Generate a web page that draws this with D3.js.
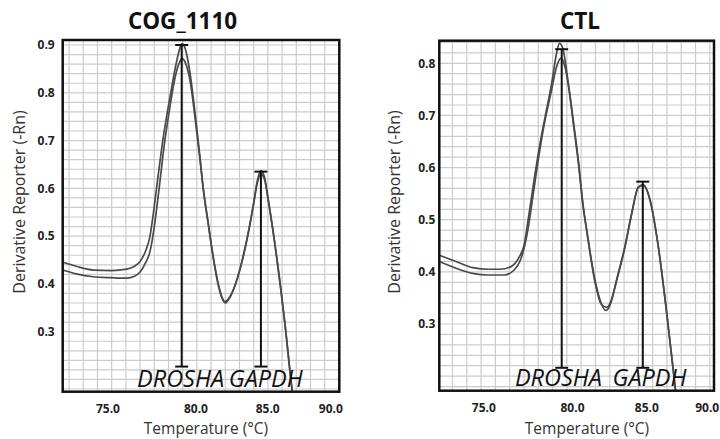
<!DOCTYPE html>
<html>
<head>
<meta charset="utf-8">
<script src="https://cdn.jsdelivr.net/npm/d3@7"></script>
<style>
  body { margin: 0; background: #fff; }
  svg { display: block; }
</style>
</head>
<body>
<script>
// melt curves: [temperature (°C), derivative reporter]
const cogCurveA = [
  [71.55, 0.446], [72.5, 0.437], [73.7, 0.429], [75.0, 0.428], [76.06, 0.431],
  [76.6, 0.437], [77.0, 0.447], [77.4, 0.47], [77.7, 0.50], [77.9, 0.54],
  [78.2, 0.61], [78.6, 0.70], [79.1, 0.79], [79.5, 0.855], [79.8, 0.893],
  [79.95, 0.903], [80.15, 0.895], [80.5, 0.845], [80.9, 0.75], [81.2, 0.67],
  [81.45, 0.60], [81.8, 0.527], [82.15, 0.457], [82.5, 0.401], [82.8, 0.37],
  [82.98, 0.363], [83.2, 0.368], [83.56, 0.387], [84.15, 0.443], [84.62, 0.506],
  [85.0, 0.57], [85.25, 0.615], [85.5, 0.637], [85.75, 0.625], [86.03, 0.576],
  [86.62, 0.457], [87.2, 0.318], [87.68, 0.185], [88.0, 0.11]
];
const cogCurveB = [
  [71.55, 0.429], [72.5, 0.421], [73.7, 0.415], [75.0, 0.413], [76.06, 0.412],
  [76.6, 0.416], [77.0, 0.425], [77.4, 0.445], [77.7, 0.468], [78.0, 0.52],
  [78.3, 0.59], [78.7, 0.69], [79.1, 0.77], [79.45, 0.83], [79.75, 0.862],
  [79.95, 0.872], [80.2, 0.862], [80.55, 0.82], [80.9, 0.74], [81.2, 0.665],
  [81.45, 0.598], [81.8, 0.525], [82.15, 0.455], [82.5, 0.398], [82.8, 0.368],
  [83.0, 0.36], [83.25, 0.368], [83.6, 0.39], [84.15, 0.445], [84.62, 0.508],
  [85.0, 0.568], [85.25, 0.61], [85.5, 0.63], [85.75, 0.62], [86.03, 0.574],
  [86.62, 0.455], [87.2, 0.316], [87.68, 0.183], [88.0, 0.108]
];
const ctlCurveA = [
  [72.08, 0.432], [73.25, 0.42], [74.42, 0.408], [75.5, 0.405], [76.3, 0.405],
  [77.1, 0.41], [77.68, 0.429], [78.0, 0.45], [78.31, 0.503], [78.7, 0.575],
  [79.13, 0.647], [79.5, 0.70], [79.94, 0.762], [80.25, 0.815], [80.48, 0.838],
  [80.7, 0.83], [81.1, 0.762], [81.45, 0.69], [81.8, 0.615], [82.15, 0.525],
  [82.39, 0.48], [82.97, 0.384], [83.4, 0.34], [83.7, 0.326], [84.0, 0.335],
  [84.49, 0.384], [85.07, 0.448], [85.54, 0.512], [86.0, 0.563], [86.35, 0.567],
  [86.82, 0.538], [87.4, 0.448], [87.99, 0.32], [88.57, 0.18], [88.9, 0.10]
];
const ctlCurveB = [
  [72.08, 0.42], [73.25, 0.407], [74.42, 0.397], [75.5, 0.394], [76.63, 0.394],
  [77.33, 0.404], [77.92, 0.436], [78.27, 0.48], [78.6, 0.54], [79.0, 0.615],
  [79.4, 0.68], [79.9, 0.745], [80.3, 0.795], [80.59, 0.81], [80.85, 0.795],
  [81.15, 0.75], [81.45, 0.685], [81.8, 0.61], [82.15, 0.522], [82.39, 0.478],
  [82.97, 0.38], [83.4, 0.338], [83.79, 0.332], [84.1, 0.345], [84.49, 0.386],
  [85.07, 0.45], [85.54, 0.513], [86.0, 0.562], [86.35, 0.566], [86.82, 0.537],
  [87.4, 0.447], [87.99, 0.319], [88.57, 0.179], [88.9, 0.10]
];

// peak markers: [temperature, top value], drawn down to a common base value
const genes = ["DROSHA", "GAPDH"];
const cogPeaks = [[79.93, 0.9], [85.51, 0.635]];
const ctlPeaks = [[80.64, 0.827], [86.31, 0.573]];
const cogPeakBase = 0.227;
const ctlPeakBase = 0.216;
const cogGeneLabelAt = [79.85, 85.85];
const ctlGeneLabelAt = [80.41, 86.78];

// tick labels (the source figure places them a little off the grid)
const xTickText = ["75.0", "80.0", "85.0", "90.0"];
const cogXTickAt = [74.7, 80.9, 85.95, 90.4];
const ctlXTickAt = [75.16, 81.36, 86.56, 90.78];
const cogYTicks = [0.3, 0.4, 0.5, 0.6, 0.7, 0.8, 0.9];
const ctlYTicks = [0.3, 0.4, 0.5, 0.6, 0.7, 0.8];

const width = 720, height = 439;
const font = "'Open Sans', 'DejaVu Sans', sans-serif";

const panels = [
  { title: "COG_1110", left: 62.7, right: 339.3, top: 40, bottom: 391.7,
    xDomain: [71.55, 91.03], yDomain: [0.1744, 0.9105],
    curves: [cogCurveA, cogCurveB], peaks: cogPeaks, base: cogPeakBase,
    labelAt: cogGeneLabelAt, xTickAt: cogXTickAt, yTicks: cogYTicks,
    titleX: 182.5, xTitleX: 206, yTitleX: 19, yGap: 8 },
  { title: "CTL", left: 439.3, right: 714, top: 40.7, bottom: 390.7,
    xDomain: [72.08, 91.29], yDomain: [0.1721, 0.8433],
    curves: [ctlCurveA, ctlCurveB], peaks: ctlPeaks, base: ctlPeakBase,
    labelAt: ctlGeneLabelAt, xTickAt: ctlXTickAt, yTicks: ctlYTicks,
    titleX: 580, xTitleX: 587, yTitleX: 394, yGap: 4 }
];

const svg = d3.select("body").append("svg")
  .attr("width", width)
  .attr("height", height)
  .style("background", "#fff");

panels.forEach((p, pi) => {
  const x = d3.scaleLinear().domain(p.xDomain).range([p.left, p.right]);
  const y = d3.scaleLinear().domain(p.yDomain).range([p.bottom, p.top]);
  const g = svg.append("g");

  // grid: one line per degree, one per 0.02
  const vLines = d3.range(Math.ceil(p.xDomain[0]), Math.floor(p.xDomain[1]) + 1);
  const hLines = d3.range(Math.ceil(p.yDomain[0] * 50), Math.floor(p.yDomain[1] * 50) + 1).map(k => k / 50);

  g.append("g").selectAll("line").data(vLines).join("line")
    .attr("x1", d => x(d)).attr("x2", d => x(d))
    .attr("y1", p.top).attr("y2", p.bottom)
    .attr("stroke", "#cbcbcb").attr("stroke-width", 1.2);
  g.append("g").selectAll("line").data(hLines).join("line")
    .attr("x1", p.left).attr("x2", p.right)
    .attr("y1", d => y(d)).attr("y2", d => y(d))
    .attr("stroke", "#cbcbcb").attr("stroke-width", 1.2);

  const clipId = "clip" + pi;
  svg.append("clipPath").attr("id", clipId)
    .append("rect")
    .attr("x", p.left).attr("y", p.top)
    .attr("width", p.right - p.left).attr("height", p.bottom - p.top);

  const line = d3.line()
    .x(d => x(d[0]))
    .y(d => y(d[1]))
    .curve(d3.curveMonotoneX);

  g.append("g").attr("clip-path", `url(#${clipId})`)
    .selectAll("path").data(p.curves).join("path")
    .attr("d", line)
    .attr("fill", "none")
    .attr("stroke", "#4a4a4a")
    .attr("stroke-width", 1.7);

  // peak markers with caps
  const mk = g.append("g").selectAll("g").data(p.peaks).join("g");
  mk.append("line")
    .attr("x1", d => x(d[0])).attr("x2", d => x(d[0]))
    .attr("y1", d => y(d[1])).attr("y2", y(p.base))
    .attr("stroke", "#111").attr("stroke-width", 2);
  mk.append("line")
    .attr("x1", d => x(d[0]) - 6.5).attr("x2", d => x(d[0]) + 6.5)
    .attr("y1", d => y(d[1])).attr("y2", d => y(d[1]))
    .attr("stroke", "#111").attr("stroke-width", 2);
  mk.append("line")
    .attr("x1", d => x(d[0]) - 6.5).attr("x2", d => x(d[0]) + 6.5)
    .attr("y1", y(p.base)).attr("y2", y(p.base))
    .attr("stroke", "#111").attr("stroke-width", 2);

  // gene names
  g.append("g").selectAll("text").data(genes).join("text")
    .attr("x", (d, i) => x(p.labelAt[i]))
    .attr("y", p.bottom - 5)
    .attr("text-anchor", "middle")
    .attr("font-family", font)
    .attr("font-style", "italic")
    .attr("font-size", "23.5px")
    .attr("fill", "#111")
    .text(d => d);

  // frame
  g.append("rect")
    .attr("x", p.left).attr("y", p.top)
    .attr("width", p.right - p.left).attr("height", p.bottom - p.top)
    .attr("fill", "none")
    .attr("stroke", "#111")
    .attr("stroke-width", 2.5);

  // axes (labels only)
  const xAxis = g.append("g")
    .attr("transform", `translate(0,${p.bottom})`)
    .call(d3.axisBottom(x).tickValues(p.xTickAt)
      .tickFormat((d, i) => xTickText[i]).tickSize(0).tickPadding(13));
  const yAxis = g.append("g")
    .attr("transform", `translate(${p.left},0)`)
    .call(d3.axisLeft(y).tickValues(p.yTicks)
      .tickFormat(d3.format(".1f")).tickSize(0).tickPadding(p.yGap));
  [xAxis, yAxis].forEach(a => {
    a.select(".domain").remove();
    a.selectAll("text")
      .attr("font-family", font)
      .attr("font-weight", "bold")
      .attr("font-size", "12px")
      .attr("fill", "#222");
  });

  // titles
  g.append("text")
    .attr("x", p.titleX).attr("y", 28.5)
    .attr("text-anchor", "middle")
    .attr("font-family", font)
    .attr("font-weight", "bold")
    .attr("font-size", "22.5px")
    .attr("fill", "#111")
    .text(p.title);

  g.append("text")
    .attr("x", p.xTitleX)
    .attr("y", 434)
    .attr("text-anchor", "middle")
    .attr("font-family", font)
    .attr("font-size", "15.5px")
    .attr("fill", "#333")
    .text("Temperature (°C)");

  g.append("text")
    .attr("transform", `translate(${p.yTitleX},202) rotate(-90)`)
    .attr("text-anchor", "middle")
    .attr("dy", "0.35em")
    .attr("font-family", font)
    .attr("font-size", "16px")
    .attr("fill", "#333")
    .text("Derivative Reporter (-Rn)");
});
</script>
</body>
</html>
